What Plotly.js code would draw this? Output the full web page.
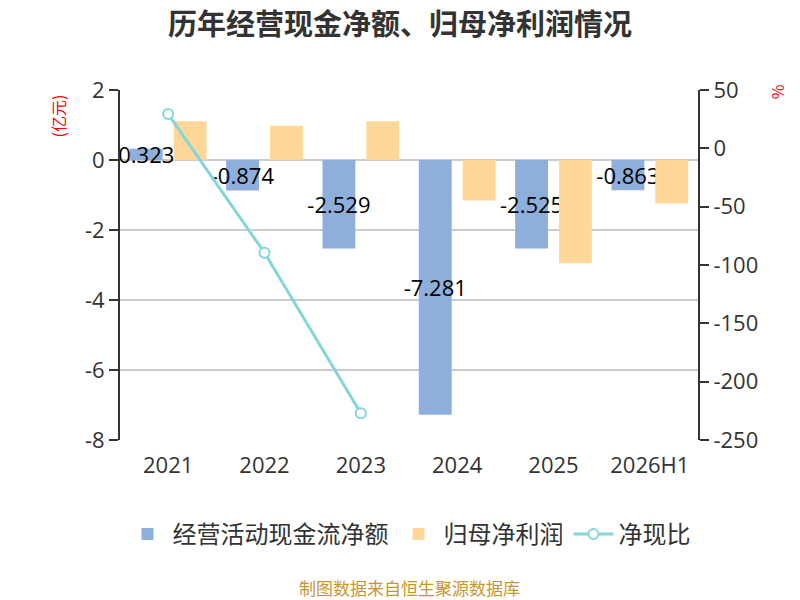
<!DOCTYPE html>
<html>
<head>
<meta charset="utf-8">
<script src="https://cdn.plot.ly/plotly-3.0.1.min.js"></script>
<style>
  html, body { margin: 0; padding: 0; background: #fff; }
  #chart { width: 800px; height: 600px; }
</style>
</head>
<body>
<div id="chart"></div>
<script>
// data
const years = ['2021', '2022', '2023', '2024', '2025', '2026H1'];
const cashFlow = [0.323, -0.874, -2.529, -7.281, -2.525, -0.863];   // 亿元
const netProfit = [1.11, 0.98, 1.11, -1.16, -2.95, -1.24];         // 亿元
const cashRatio = [29.4, -89.5, -227, null, null, null];           // %
const leftTicks = [2, 0, -2, -4, -6, -8];
const rightTicks = [50, 0, -50, -100, -150, -200, -250];

const FONT = '"Open Sans", "Noto Sans CJK SC", sans-serif';
const CJK = '"Noto Sans CJK SC", sans-serif';

let trace1 = {
    x: years,
    y: cashFlow,
    type: 'bar',
    name: '经营活动现金流净额',
    marker: { color: '#8eafdc' },
    text: cashFlow.map(v => v.toFixed(3)),
    textposition: 'inside',
    insidetextanchor: 'middle',
    constraintext: 'none',
    textangle: 0,
    cliponaxis: false,
    textfont: { family: FONT, size: 22, color: '#000' },
    hoverinfo: 'none'
};

let trace2 = {
    x: years,
    y: netProfit,
    type: 'bar',
    name: '归母净利润',
    marker: { color: '#ffd899' },
    hoverinfo: 'none'
};

let trace3 = {
    x: years,
    y: cashRatio,
    yaxis: 'y2',
    type: 'scatter',
    mode: 'lines+markers',
    name: '净现比',
    line: { color: '#86d5d8', width: 3 },
    marker: { symbol: 'circle', size: 10, color: '#fff', line: { color: '#86d5d8', width: 2 } },
    connectgaps: false,
    hoverinfo: 'none'
};

// boundaries between categories, used for the ticks on the zero line
let boundaries = years.map((c, i) => i - 0.5).concat([years.length - 0.5]);

let layout = {
    width: 800,
    height: 600,
    paper_bgcolor: '#fff',
    plot_bgcolor: '#fff',
    font: { family: FONT, color: '#333' },
    margin: { l: 120, r: 102, t: 90, b: 160 },
    title: {
        text: '<b>历年经营现金净额、归母净利润情况</b>',
        font: { family: CJK, size: 29, color: '#333' },
        x: 0.5,
        xanchor: 'center',
        y: 0.958,
        yanchor: 'middle'
    },
    barmode: 'group',
    bargap: 0.09,
    bargroupgap: 0.25,
    showlegend: true,
    legend: {
        orientation: 'h',
        x: 0.5,
        xanchor: 'center',
        y: -0.27,
        yanchor: 'middle',
        font: { family: CJK, size: 24, color: '#333' },
        itemwidth: 40,
        traceorder: 'normal'
    },
    xaxis: {
        type: 'category',
        categoryorder: 'array',
        categoryarray: years,
        range: [-0.5, years.length - 0.5],
        showline: false,
        ticks: '',
        ticklabelstandoff: 10,
        showgrid: false,
        zeroline: false,
        tickfont: { family: FONT, size: 22, color: '#333' }
    },
    xaxis2: {
        overlaying: 'x',
        anchor: 'free',
        position: 0.8,
        type: 'linear',
        range: [-0.5, years.length - 0.5],
        tickvals: boundaries,
        showticklabels: false,
        ticks: 'outside',
        ticklen: 8,
        tickwidth: 2,
        tickcolor: '#333',
        showline: true,
        linecolor: '#333',
        linewidth: 2,
        showgrid: false,
        zeroline: false
    },
    yaxis: {
        range: [-8, 2],
        tickvals: leftTicks,
        ticktext: leftTicks.map(String),
        showline: true,
        linecolor: '#333',
        linewidth: 2,
        ticks: 'outside',
        ticklen: 9,
        tickwidth: 2,
        tickcolor: '#333',
        showgrid: true,
        gridcolor: '#cccccc',
        gridwidth: 2,
        zeroline: false,
        tickfont: { family: FONT, size: 22, color: '#333' }
    },
    yaxis2: {
        overlaying: 'y',
        side: 'right',
        range: [-250, 50],
        tickvals: rightTicks,
        ticktext: rightTicks.map(String),
        showline: true,
        linecolor: '#333',
        linewidth: 2,
        ticks: 'outside',
        ticklen: 9,
        tickwidth: 2,
        tickcolor: '#333',
        showgrid: false,
        zeroline: false,
        tickfont: { family: FONT, size: 22, color: '#333' }
    },
    annotations: [
        {
            text: '(亿元)', xref: 'paper', yref: 'paper',
            x: -0.108, y: 0.926, xanchor: 'center', yanchor: 'middle',
            textangle: -90, showarrow: false,
            font: { family: CJK, size: 16, color: '#ff0000' }
        },
        {
            text: '%', xref: 'paper', yref: 'paper',
            x: 1.137, y: 0.994, xanchor: 'center', yanchor: 'middle',
            textangle: -90, showarrow: false,
            font: { family: CJK, size: 16, color: '#ff0000' }
        },
        {
            text: '制图数据来自恒生聚源数据库', xref: 'paper', yref: 'paper',
            x: 0.5, y: -0.42, xanchor: 'center', yanchor: 'middle', showarrow: false,
            font: { family: CJK, size: 17, color: '#c8962e' }
        }
    ]
};

Plotly.newPlot('chart', [trace1, trace2, trace3], layout, { displayModeBar: false, staticPlot: true });
</script>
</body>
</html>
